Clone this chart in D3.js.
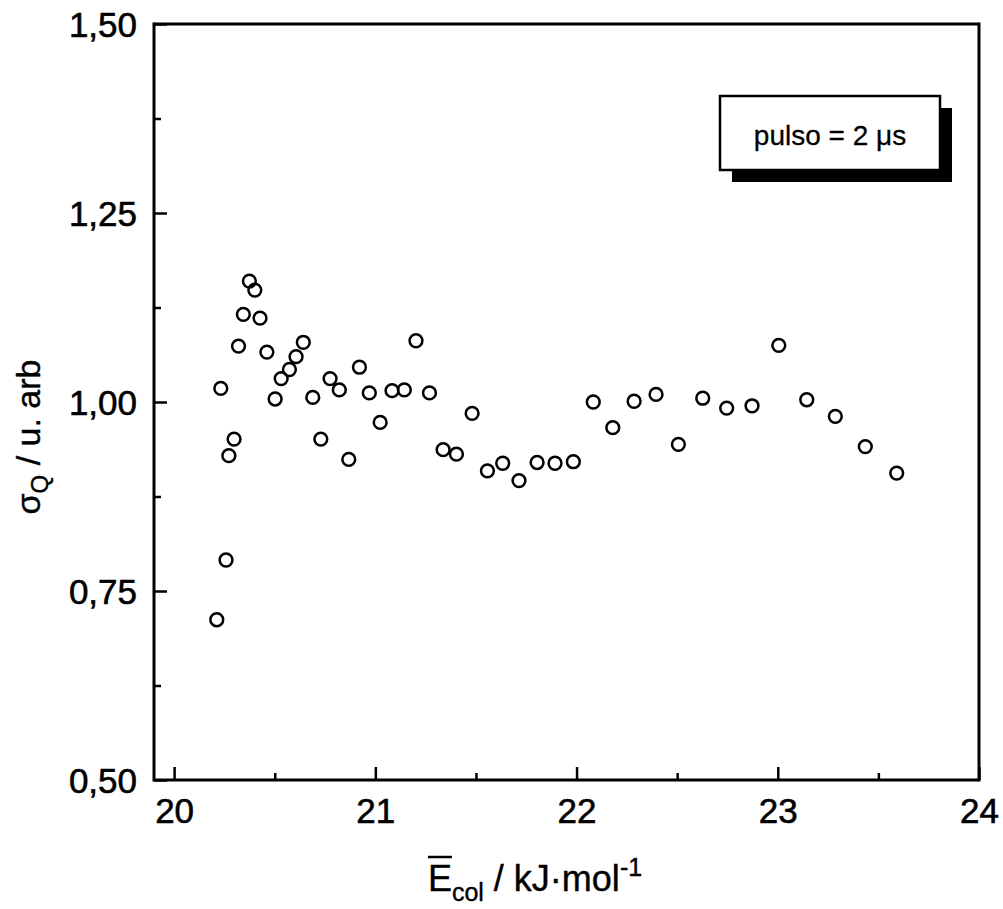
<!DOCTYPE html>
<html>
<head>
<meta charset="utf-8">
<script src="https://cdn.jsdelivr.net/npm/d3@7"></script>
<style>
  html, body { margin: 0; padding: 0; background: #fff; }
  svg { display: block; font-family: "Liberation Sans", Arial, sans-serif; }
</style>
</head>
<body>
<svg id="chart" width="1003" height="909"></svg>
<script>
// ---- data ----
const energy = [20.212, 20.232, 20.258, 20.272, 20.298, 20.320, 20.344, 20.374, 20.401, 20.427,
                20.461, 20.502, 20.532, 20.573, 20.606, 20.642, 20.689, 20.729, 20.775, 20.821,
                20.868, 20.921, 20.970, 21.024, 21.083, 21.144, 21.202, 21.269, 21.337, 21.403,
                21.481, 21.557, 21.633, 21.714, 21.804, 21.893, 21.984, 22.083, 22.180, 22.286,
                22.395, 22.506, 22.627, 22.746, 22.872, 23.005, 23.144, 23.286, 23.435, 23.591];
const sigma  = [0.712, 1.018, 0.791, 0.929, 0.951, 1.074, 1.116, 1.160, 1.148, 1.111,
                1.066, 1.004, 1.031, 1.043, 1.060, 1.079, 1.006, 0.951, 1.031, 1.016,
                0.924, 1.046, 1.012, 0.973, 1.015, 1.016, 1.081, 1.012, 0.937, 0.931,
                0.985, 0.909, 0.919, 0.896, 0.920, 0.919, 0.921, 1.000, 0.966, 1.001,
                1.010, 0.944, 1.005, 0.992, 0.995, 1.075, 1.003, 0.981, 0.941, 0.906];
const xMajorTicks = [20, 21, 22, 23, 24];
const xMinorTicks = [20.5, 21.5, 22.5, 23.5];
const yMajorTicks = [0.50, 0.75, 1.00, 1.25, 1.50];
const yMinorTicks = [0.625, 0.875, 1.125, 1.375];
const yTickLabels = ["0,50", "0,75", "1,00", "1,25", "1,50"];
const legendText = "pulso = 2 \u03BCs";

// ---- layout ----
const svg = d3.select("#chart");
const L = 154, R = 979, T = 24, B = 780;
const x = d3.scaleLinear().domain([19.9, 24]).range([L, R]);
const y = d3.scaleLinear().domain([0.5, 1.5]).range([B, T]);
const FONT = "Liberation Sans, Arial, sans-serif";

// frame
const frame = svg.append("g").attr("stroke", "#000").attr("stroke-width", 3).attr("fill", "none");
frame.append("line").attr("x1", L).attr("x2", L).attr("y1", T - 1.5).attr("y2", B + 1.5);
frame.append("line").attr("x1", R).attr("x2", R).attr("y1", T - 1.5).attr("y2", B + 1.5);
frame.append("line").attr("x1", L).attr("x2", R).attr("y1", T).attr("y2", T);
frame.append("line").attr("x1", L).attr("x2", R).attr("y1", B).attr("y2", B);

// x axis ticks (inward)
const xAxisMaj = d3.axisBottom(x).tickValues(xMajorTicks).tickSize(-13).tickPadding(0).tickFormat(d3.format("d"));
const gx = svg.append("g").attr("transform", `translate(0,${B})`).call(xAxisMaj);
gx.select(".domain").remove();
gx.selectAll(".tick line").attr("stroke", "#000").attr("stroke-width", 2.5);
gx.selectAll(".tick text").attr("font-size", 35).attr("fill", "#000").attr("stroke", "#000").attr("stroke-width", 0.6)
  .attr("font-family", FONT).attr("y", 43).attr("dy", 0);
const xAxisMin = d3.axisBottom(x).tickValues(xMinorTicks).tickSize(-7).tickFormat("");
const gxm = svg.append("g").attr("transform", `translate(0,${B})`).call(xAxisMin);
gxm.select(".domain").remove();
gxm.selectAll(".tick line").attr("stroke", "#000").attr("stroke-width", 2.5);

// y axis ticks (inward)
const yAxisMaj = d3.axisLeft(y).tickValues(yMajorTicks).tickSize(-13).tickPadding(0)
  .tickFormat((d, i) => yTickLabels[i]);
const gy = svg.append("g").attr("transform", `translate(${L},0)`).call(yAxisMaj);
gy.select(".domain").remove();
gy.selectAll(".tick line").attr("stroke", "#000").attr("stroke-width", 2.5);
gy.selectAll(".tick text").attr("font-size", 35).attr("fill", "#000").attr("stroke", "#000").attr("stroke-width", 0.6)
  .attr("font-family", FONT).attr("x", -17).attr("dy", "0.36em");
const yAxisMin = d3.axisLeft(y).tickValues(yMinorTicks).tickSize(-7).tickFormat("");
const gym = svg.append("g").attr("transform", `translate(${L},0)`).call(yAxisMin);
gym.select(".domain").remove();
gym.selectAll(".tick line").attr("stroke", "#000").attr("stroke-width", 2.5);

// points
const pts = energy.map((e, i) => ({ e, s: sigma[i] }));
svg.append("g").selectAll("circle").data(pts).join("circle")
  .attr("cx", d => x(d.e)).attr("cy", d => y(d.s)).attr("r", 6.4)
  .attr("fill", "none").attr("stroke", "#000").attr("stroke-width", 2.5);

// legend box with shadow
const lg = svg.append("g");
lg.append("rect").attr("x", 732).attr("y", 108).attr("width", 220).attr("height", 74).attr("fill", "#000");
lg.append("rect").attr("x", 720).attr("y", 96).attr("width", 220).attr("height", 74)
  .attr("fill", "#fff").attr("stroke", "#000").attr("stroke-width", 2.5);
lg.append("text").attr("x", 830).attr("y", 145).attr("text-anchor", "middle")
  .attr("font-size", 28).attr("fill", "#000").attr("stroke", "#000").attr("stroke-width", 0.3)
  .text(legendText);

// y title
const yt = svg.append("text").attr("transform", "translate(40,437) rotate(-90)")
  .attr("text-anchor", "middle").attr("font-size", 34).attr("fill", "#000")
  .attr("stroke", "#000").attr("stroke-width", 0.4);
yt.append("tspan").text("\u03C3");
yt.append("tspan").attr("font-size", 24).attr("dy", 8).text("Q");
yt.append("tspan").attr("dy", -8).text(" / u. arb");

// x title
const xt = svg.append("text").attr("x", 535).attr("y", 891)
  .attr("text-anchor", "middle").attr("font-size", 36).attr("fill", "#000")
  .attr("stroke", "#000").attr("stroke-width", 0.4);
xt.append("tspan").text("E");
xt.append("tspan").attr("font-size", 25).attr("dy", 10).text("col");
xt.append("tspan").attr("dy", -10).text(" / kJ\u00B7mol");
xt.append("tspan").attr("font-size", 25).attr("dy", -15).text("-1");
const n = xt.node();
const s0 = n.getStartPositionOfChar(0), e0 = n.getEndPositionOfChar(0);
svg.append("line").attr("x1", s0.x).attr("x2", e0.x).attr("y1", 857).attr("y2", 857)
  .attr("stroke", "#000").attr("stroke-width", 2.5);
</script>
</body>
</html>
